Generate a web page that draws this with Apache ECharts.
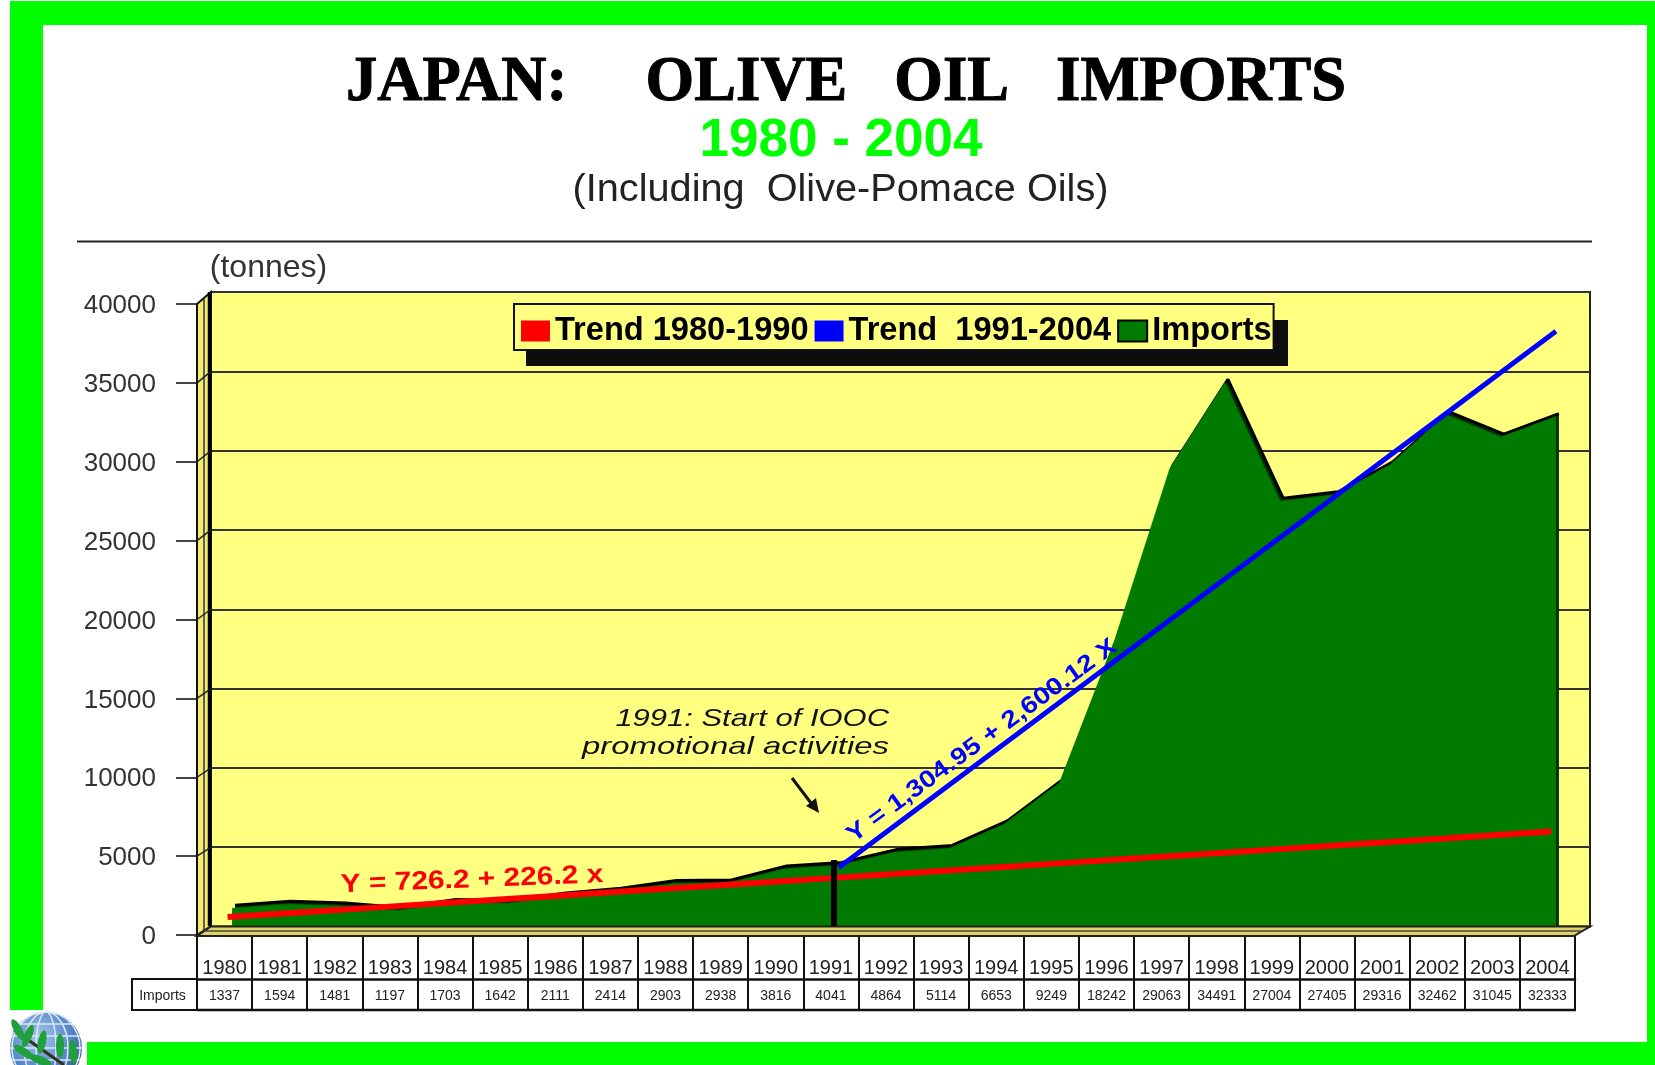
<!DOCTYPE html>
<html>
<head>
<meta charset="utf-8">
<style>html,body{margin:0;padding:0;background:#fff}#c{width:1655px;height:1065px}</style>
<script src="https://cdn.jsdelivr.net/npm/echarts@6/dist/echarts.min.js"></script>
</head>
<body>
<div id="c"></div>
<script>
const years = ['1980','1981','1982','1983','1984','1985','1986','1987','1988','1989','1990','1991','1992','1993','1994','1995','1996','1997','1998','1999','2000','2001','2002','2003','2004'];
const imports = [1337,1594,1481,1197,1703,1642,2111,2414,2903,2938,3816,4041,4864,5114,6653,9249,18242,29063,34491,27004,27405,29316,32462,31045,32333];
const trend8090 = [726,952,1179,1405,1631,1857,2083,2310,2536,2762,2988,3214,3441,3667,3893,4119,4345,4572,4798,5024,5250,5476,5703,5929,6155];
const trend9104 = [null,null,null,null,null,null,null,null,null,null,null,3905,6505,9105,11705,14306,16906,19506,22106,24706,27306,29906,32506,35107,37707];
const yTicks = [0,5000,10000,15000,20000,25000,30000,35000,40000];
const nameRed = 'Trend 1980-1990', nameBlue = 'Trend  1991-2004', nameImports = 'Imports';

const SANS = '"Liberation Sans", Arial, sans-serif';
const hiddenX = (grid) => ({type:'category', gridIndex:grid, data:years, boundaryGap:true,
  axisLine:{show:false}, axisTick:{show:false}, axisLabel:{show:false}, splitLine:{show:false}});
const hiddenY = (grid) => ({type:'value', gridIndex:grid, min:0, max:40000, interval:5000,
  axisLine:{show:false}, axisTick:{show:false}, axisLabel:{show:false}, splitLine:{show:false}});

// decorative 3-D box, frame and annotations
const graphics = [];
const rect = (x,y,w,h,fill,z) => graphics.push({type:'rect', shape:{x,y,width:w,height:h}, style:{fill}, z:z||1, silent:true});
const line = (x1,y1,x2,y2,stroke,lw,z) => graphics.push({type:'line', shape:{x1,y1,x2,y2}, style:{stroke, lineWidth:lw}, z:z||1, silent:true});
const poly = (pts,fill,stroke,lw,z) => graphics.push({type:'polygon', shape:{points:pts}, style:{fill, stroke, lineWidth:lw||0}, z:z||1, silent:true});
const text = (t,x,y,font,fill,opt) => graphics.push(Object.assign({type:'text', x, y, z:12, silent:true,
  style:{text:t, font, fill, align:'center', verticalAlign:'middle'}}, opt||{}));

// green frame
rect(10,1,1645,24,'#00ff00');
rect(10,1,33,1009,'#00ff00');
rect(87,1042,1568,23,'#00ff00');
rect(1647,1,8,1064,'#00ff00');
// rule under the titles
line(77,241.5,1592,241.5,'#222',2);
// side wall and floor
poly([[211,292],[197,304],[197,935],[211,926]],'#f4ec72','#111',2,1);
line(204,298,204,930,'#333',1.5,1);
poly([[211,926.5],[1590,926.5],[1574,936],[197,936]],'#ddd463','#222',2,5);
line(204,931,1582,931,'#444',1.5,5);
line(209.5,292,209.5,926,'#000',3.5,2);
// oblique grid marks on the side wall
yTicks.forEach((v,i)=>{ if(i>0 && i<8){
  const yBack = 926.5 - 634.5*v/40000, yFront = 935 - 631*v/40000;
  line(197,yFront,211,yBack,'#222',1.5,2);
}});
// legend drop shadow
rect(526,345,762,21,'#0d0d0d',7);
rect(1272,320,16,46,'#0d0d0d',7);
// "Imports" row head
graphics.push({type:'rect', shape:{x:132,y:979,width:65,height:31}, style:{fill:'#fff', stroke:'#111', lineWidth:2}, z:1, silent:true});
line(197,1010,1576,1010,'#111',2.5,1);
text('Imports',162.5,996,'14px '+SANS,'#222');
// 1991 marker and arrow
rect(831,860,6,66,'#000',10);
line(792,778,814,807,'#111',3,10);
poly([[819,813],[806,806],[816,798]],'#111',null,0,10);
// annotations
text('1991: Start of IOOC',889,719,'italic 24px '+SANS,'#111',{style:{text:'1991: Start of IOOC',font:'italic 24px '+SANS,fill:'#111',align:'right',verticalAlign:'middle'},scaleX:1.29});
text('promotional activities',889,747,'italic 24px '+SANS,'#111',{style:{text:'promotional activities',font:'italic 24px '+SANS,fill:'#111',align:'right',verticalAlign:'middle'},scaleX:1.37});
text('Y = 726.2 + 226.2 x',472,880,'bold 26px '+SANS,'#ff0000',{rotation:0.038,scaleX:1.15});
text('Y = 1,304.95 + 2,600.12 X',982,741,'bold 24px '+SANS,'#0000ff',{rotation:0.63,scaleX:1.17});
// globe logo
graphics.push({type:'circle', shape:{cx:46,cy:1048,r:36}, z:3, silent:true,
  style:{fill:{type:'radial',x:0.4,y:0.35,r:0.7,colorStops:[{offset:0,color:'#a9c8ee'},{offset:0.7,color:'#4d7fc4'},{offset:1,color:'#33527f'}]}}});
[10,22,34].forEach(rx=>graphics.push({type:'ellipse', shape:{cx:46,cy:1048,rx,ry:36}, style:{fill:'none',stroke:'#dbe8f8',lineWidth:1.5}, z:4, silent:true}));
[1024,1036,1048,1060].forEach(y=>{const d=Math.abs(y-1048),h=Math.sqrt(36*36-d*d);line(46-h,y,46+h,y,'#dbe8f8',1.5,4);});
line(14,1030,64,1065,'#33301a',3,5);
[[18,1030,0.5],[28,1036,-0.4],[42,1042,-0.2],[60,1046,0],[73,1052,0.1],[24,1052,1.0],[40,1060,1.2]].forEach(p=>
  graphics.push({type:'ellipse', x:p[0], y:p[1], rotation:p[2], shape:{cx:0,cy:0,rx:4,ry:12}, style:{fill:'#1fa03a'}, z:5, silent:true}));

const option = {
  animation:false,
  backgroundColor:'#fff',
  title:[
    {text:'JAPAN:     OLIVE   OIL   IMPORTS', left:841, top:79, textAlign:'center', textVerticalAlign:'middle',
     textStyle:{fontFamily:'"Liberation Serif", serif', fontWeight:'bold', fontSize:62.6, color:'#000', textBorderColor:'#000', textBorderWidth:1}},
    {text:'1980 - 2004', left:836, top:136, textAlign:'center', textVerticalAlign:'middle',
     textStyle:{fontFamily:SANS, fontWeight:'bold', fontSize:53, color:'#00ff00'}},
    {text:'(Including  Olive-Pomace Oils)', left:835.5, top:185, textAlign:'center', textVerticalAlign:'middle',
     textStyle:{fontFamily:SANS, fontWeight:'normal', fontSize:39.7, color:'#222'}},
    {text:'(tonnes)', left:263.5, top:263, textAlign:'center', textVerticalAlign:'middle',
     textStyle:{fontFamily:SANS, fontWeight:'normal', fontSize:32, color:'#333'}}
  ],
  legend:{
    left:514, top:304, orient:'horizontal', selectedMode:false, itemGap:6, itemWidth:29, itemHeight:21,
    padding:[8,2,0,7], backgroundColor:'#ffff80', borderColor:'#111', borderWidth:2, z:8,
    textStyle:{fontFamily:SANS, fontWeight:'bold', fontSize:32.6, color:'#000', lineHeight:38},
    data:[
      {name:nameRed, icon:'rect', itemStyle:{color:'#ff0000', borderWidth:0}},
      {name:nameBlue, icon:'rect', itemStyle:{color:'#0000ff', borderWidth:0}},
      {name:nameImports, icon:'rect', itemStyle:{color:'#007b00', borderColor:'#000', borderWidth:2}}
    ]
  },
  grid:[
    {left:211, top:292, width:1379, height:634.5, show:true, backgroundColor:'#ffff80', borderColor:'#222', borderWidth:2},
    {left:204.5, top:295, width:1379, height:634.5},
    {left:200, top:298.5, width:1379, height:630},
    {left:197, top:304, width:1378, height:631},
    {left:207.5, top:292, width:1379, height:634.5}
  ],
  xAxis:[
    hiddenX(0), hiddenX(1), hiddenX(2),
    {type:'category', gridIndex:3, data:years, position:'bottom', boundaryGap:true,
     axisLine:{show:true, lineStyle:{color:'#111', width:2}},
     axisTick:{show:true, length:44, lineStyle:{color:'#111', width:2}},
     axisLabel:{show:true, interval:0, margin:23, fontFamily:SANS, fontSize:20, color:'#222'}, splitLine:{show:false}},
    {type:'category', gridIndex:3, data:imports.map(String), position:'bottom', offset:44, boundaryGap:true,
     axisLine:{show:true, lineStyle:{color:'#111', width:2.5}},
     axisTick:{show:true, length:31, lineStyle:{color:'#111', width:2}},
     axisLabel:{show:true, interval:0, margin:10.5, fontFamily:SANS, fontSize:14, color:'#222'}, splitLine:{show:false}},
    hiddenX(4)
  ],
  yAxis:[
    {type:'value', gridIndex:0, min:0, max:40000, interval:5000,
     axisLine:{show:false}, axisTick:{show:false}, axisLabel:{show:false},
     splitLine:{show:true, lineStyle:{color:'#333', width:2}}},
    hiddenY(1), hiddenY(2),
    {type:'value', gridIndex:3, min:0, max:40000, interval:5000,
     axisLine:{show:false}, axisTick:{show:true, length:21, lineStyle:{color:'#444', width:2}},
     axisLabel:{show:true, margin:41, verticalAlign:'top', lineHeight:4, formatter:(v)=>String(v), fontFamily:SANS, fontSize:26, color:'#333'}, splitLine:{show:false}},
    hiddenY(4)
  ],
  series:[
    {name:nameImports, type:'line', xAxisIndex:5, yAxisIndex:4, data:imports, z:3, symbol:'none', clip:false,
     lineStyle:{color:'#000', width:3}, itemStyle:{color:'#007b00'}, areaStyle:{color:'#003300', opacity:1}},
    {name:nameImports, type:'line', xAxisIndex:1, yAxisIndex:1, data:imports, z:4, symbol:'none', clip:false,
     lineStyle:{color:'#007b00', width:0.5}, itemStyle:{color:'#007b00'}, areaStyle:{color:'#007b00', opacity:1}},
    {name:nameRed, type:'line', xAxisIndex:2, yAxisIndex:2, data:trend8090, z:6, symbol:'none',
     lineStyle:{color:'#ff0000', width:6}, itemStyle:{color:'#ff0000'}},
    {name:nameBlue, type:'line', xAxisIndex:1, yAxisIndex:1, data:trend9104, z:7, symbol:'none',
     lineStyle:{color:'#0000ff', width:5}, itemStyle:{color:'#0000ff'}}
  ],
  graphic:{elements:graphics}
};
const chart = echarts.init(document.getElementById('c'));
chart.setOption(option);
</script>
</body>
</html>
